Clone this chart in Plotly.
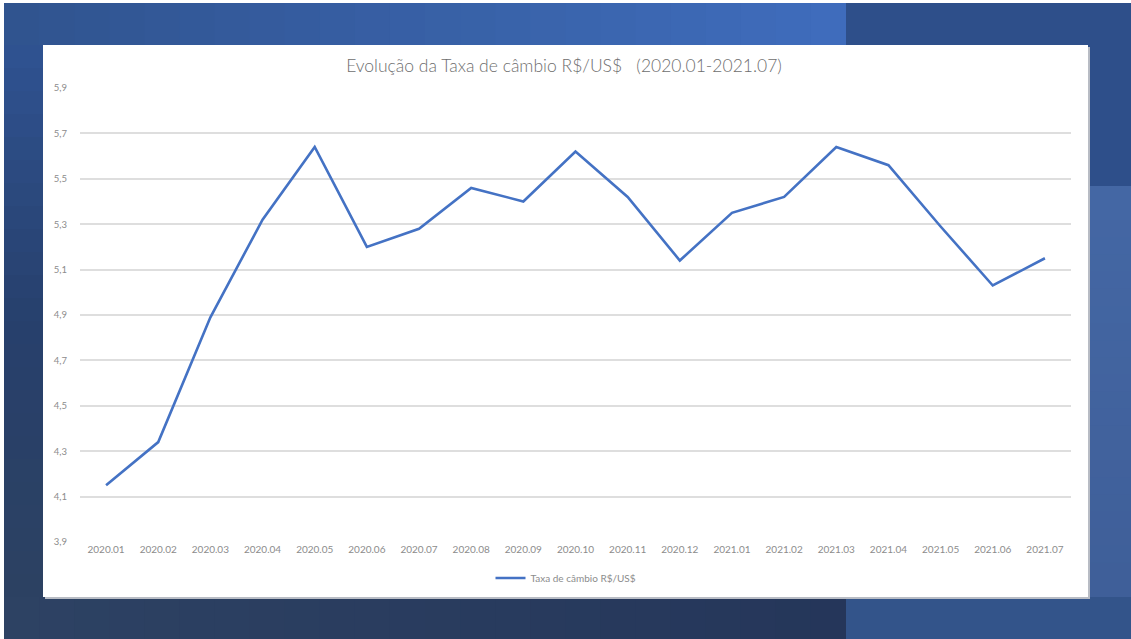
import plotly.graph_objects as go

W, H = 1131, 639

categories = ["2020.01", "2020.02", "2020.03", "2020.04", "2020.05", "2020.06", "2020.07",
              "2020.08", "2020.09", "2020.10", "2020.11", "2020.12", "2021.01", "2021.02",
              "2021.03", "2021.04", "2021.05", "2021.06", "2021.07"]
taxa = [4.15, 4.34, 4.89, 5.32, 5.64, 5.20, 5.28, 5.46, 5.40, 5.62, 5.42, 5.14,
        5.35, 5.42, 5.64, 5.56, 5.29, 5.03, 5.15]
y_tickvals = [3.9, 4.1, 4.3, 4.5, 4.7, 4.9, 5.1, 5.3, 5.5, 5.7, 5.9]
y_ticktext = ["3,9", "4,1", "4,3", "4,5", "4,7", "4,9", "5,1", "5,3", "5,5", "5,7", "5,9"]
series_name = "Taxa de câmbio R$/US$"
title_text = "Evolução da Taxa de câmbio R$/US$&nbsp;&nbsp;&nbsp;(2020.01-2021.07)"


def px(x):
    return x / W


def py(y):
    return 1 - y / H


def rect(x0, y0, x1, y1, color, line=None):
    d = dict(type="rect", xref="paper", yref="paper", x0=px(x0), x1=px(x1),
             y0=py(y1), y1=py(y0), fillcolor=color, layer="below",
             line=dict(width=0))
    if line:
        d["line"] = line
    return d


def lerp(c1, c2, t):
    a = [int(c1[i:i + 2], 16) for i in (1, 3, 5)]
    b = [int(c2[i:i + 2], 16) for i in (1, 3, 5)]
    return "#" + "".join(f"{round(a[k] + (b[k] - a[k]) * t):02x}" for k in range(3))


shapes = [rect(0, 0, W, H, "#ffffff")]
shapes.append(rect(4, 3, 846, H, "#2b4169"))
n = 24
for i in range(n):
    x0 = 4 + (846 - 4) * i / n
    x1 = 4 + (846 - 4) * (i + 1) / n + 1
    shapes.append(rect(x0, 3, x1, 45, lerp("#30548f", "#3f6cbc", i / (n - 1))))
for i in range(n):
    y0 = 45 + (597 - 45) * i / n
    y1 = 45 + (597 - 45) * (i + 1) / n + 1
    t = i / (n - 1)
    c = lerp("#2f5290", "#27406c", t * 2) if t < 0.5 else lerp("#27406c", "#2c4162", (t - 0.5) * 2)
    shapes.append(rect(4, y0, 43, y1, c))
for i in range(n):
    x0 = 4 + (846 - 4) * i / n
    x1 = 4 + (846 - 4) * (i + 1) / n + 1
    shapes.append(rect(x0, 597, x1, H, lerp("#2d4263", "#25365a", i / (n - 1))))
shapes.append(rect(846, 3, W, 186, "#2e4f8a"))
for i in range(n):
    y0 = 186 + (597 - 186) * i / n
    y1 = 186 + (597 - 186) * (i + 1) / n + 1
    shapes.append(rect(846, y0, W, y1, lerp("#4467a4", "#3f5f99", i / (n - 1))))
shapes.append(rect(846, 597, W, H, "#33548a"))
shapes.append(rect(45, 47, 1090, 599, "#b8bcc4"))
shapes.append(rect(43, 45, 1088, 597, "#ffffff"))

fig = go.Figure()
fig.add_trace(go.Scatter(
    x=categories, y=taxa, mode="lines", name=series_name,
    line=dict(color="#4472c4", width=2.6),
))

fig.update_layout(
    width=W, height=H, autosize=False,
    margin=dict(l=0, r=0, t=0, b=0),
    paper_bgcolor="#ffffff", plot_bgcolor="rgba(0,0,0,0)",
    shapes=shapes,
    font=dict(family="Open Sans, Lato, sans-serif", color="#8c8c8c"),
    title=dict(text=title_text, x=px(564), xanchor="center", y=py(66), yanchor="middle",
               font=dict(size=17.5, color="#6e6e6e", family="Lato, sans-serif", weight=300)),
    xaxis=dict(domain=[px(80), px(1071)], type="category", range=[-0.5, 18.5],
               showgrid=False, zeroline=False, showline=False, ticks="",
               tickfont=dict(size=10, color="#8c8c8c", family="Lato, sans-serif"),
               automargin=False),
    yaxis=dict(domain=[py(542), py(88)], range=[3.9, 5.9], tickvals=y_tickvals,
               ticktext=y_ticktext, showgrid=True, gridcolor="#dedede", gridwidth=1.6,
               zeroline=False, showline=False, ticks="", ticklabelstandoff=12,
               tickfont=dict(size=9.5, color="#8c8c8c", family="Lato, sans-serif"),
               automargin=False),
    showlegend=True,
    legend=dict(orientation="h", x=px(566), xanchor="center", y=py(578), yanchor="middle",
                font=dict(size=10, color="#8c8c8c", family="Lato, sans-serif"),
                bgcolor="rgba(0,0,0,0)", itemwidth=30),
)

fig.write_html("out.html")
